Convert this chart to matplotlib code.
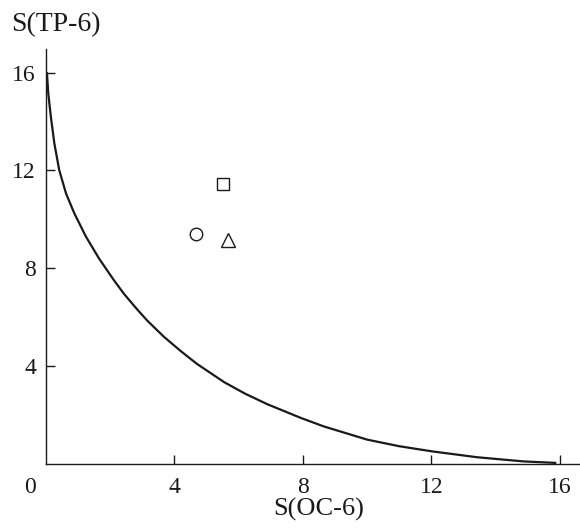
import matplotlib
matplotlib.use('Agg')
import matplotlib.pyplot as plt

plt.rcParams['font.family'] = ['Liberation Serif', 'DejaVu Serif']

# minimal-distortion path OC-6 -> TP-6
path_oc = [0.04, 0.08, 0.16, 0.27, 0.42, 0.63, 0.89, 1.25, 1.66, 2.13, 2.44, 2.86,
           3.17, 3.68, 4.20, 4.70, 5.55, 6.20, 6.89, 7.93, 8.65, 10.0, 11.0, 12.02,
           13.42, 14.86, 15.85]
path_tp = [15.97, 15.15, 14.20, 13.10, 12.02, 11.07, 10.25, 9.30, 8.40, 7.50, 6.95, 6.30,
           5.85, 5.20, 4.62, 4.10, 3.35, 2.88, 2.45, 1.89, 1.54, 1.0, 0.73, 0.52,
           0.28, 0.11, 0.05]

# complexes
pts_oc = [4.67, 5.50, 5.66]
pts_tp = [9.40, 11.45, 9.16]
pts_marker = ['o', 's', '^']

ticks = [4, 8, 12, 16]
ink = '#1a1a1a'

fig = plt.figure(figsize=(5.8, 5.31), dpi=100)
ax = fig.add_axes([0.0788, 0.126, 0.9212, 0.781])

ax.plot(path_oc, path_tp, color=ink, lw=1.6)
for x, y, m in zip(pts_oc, pts_tp, pts_marker):
    ax.plot(x, y, m, ms=10 if m == '^' else 9, mfc='none', mec=ink, mew=1.0)

ax.set_xlim(0, 16.62)
ax.set_ylim(0, 16.95)
ax.set_xticks(ticks)
ax.set_yticks(ticks)
ax.spines['top'].set_visible(False)
ax.spines['right'].set_visible(False)
for s in ('left', 'bottom'):
    ax.spines[s].set_linewidth(1.0)
    ax.spines[s].set_color(ink)
ax.tick_params(axis='both', direction='in', length=6.5, width=1.0, colors=ink,
               labelsize=17)
ax.tick_params(axis='x', pad=9)
ax.tick_params(axis='y', pad=7)

ax.annotate('0', xy=(0, 0), xycoords='axes fraction', xytext=(-11.5, -16.5),
            textcoords='offset points', ha='center', va='center', fontsize=17, color=ink)

ax.set_xlabel('S(OC-6)', fontsize=19, color=ink, labelpad=0)
ax.xaxis.label.set_x(0.511)
fig.text(0.019, 0.931, 'S(TP-6)', fontsize=20, color=ink, ha='left', va='bottom')

fig.savefig('out.png', dpi=100)
